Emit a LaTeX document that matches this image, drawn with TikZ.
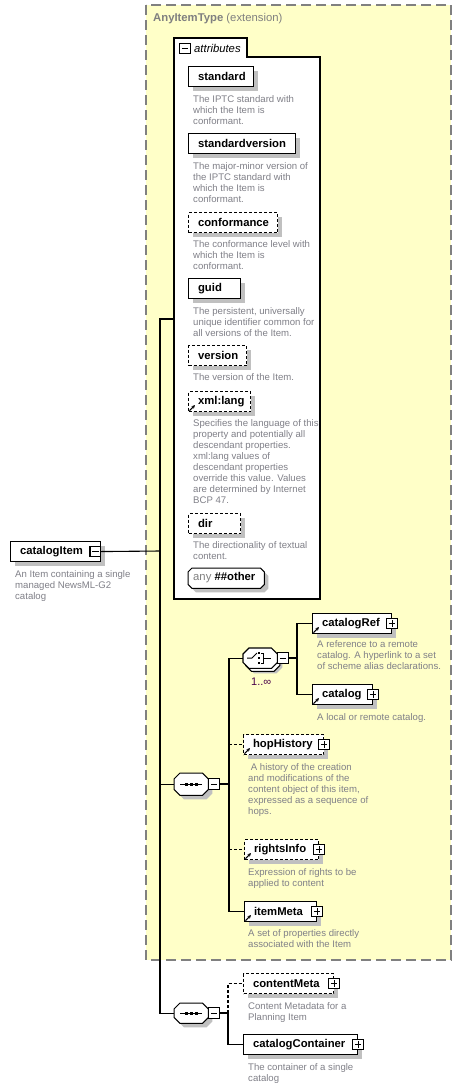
\documentclass[tikz,border=0pt]{standalone}
\usepackage{fontspec}
\setmainfont{Liberation Sans}
\usetikzlibrary{arrows.meta,calc}
\definecolor{ybg}{RGB}{255,255,200}
\definecolor{bgray}{RGB}{128,128,128}
\definecolor{dgray}{RGB}{128,128,136}
\definecolor{shd}{RGB}{192,192,192}
\definecolor{purp}{RGB}{72,0,72}
\newcommand\elfont{\fontsize{11.3pt}{13pt}\selectfont\bfseries}
\newcommand\descfont{\fontsize{9.6pt}{11pt}\selectfont}
\newcommand\nm[2]{\makebox[#1][l]{\hspace{9.5pt}#2}}
\newcommand\octpath[2]{($(#1.north west)+(#2,0)$) -- ($(#1.north east)+(-#2,0)$) -- ($(#1.north east)+(0,#2)$) -- ($(#1.south east)+(0,-#2)$) -- ($(#1.south east)+(-#2,0)$) -- ($(#1.south west)+(#2,0)$) -- ($(#1.south west)+(0,-#2)$) -- ($(#1.north west)+(0,#2)$) -- cycle}
\newcommand\refic[1]{\draw[refarrow] ([xshift=1.5pt,yshift=1.5pt]#1.south west) -- ++(5.5,-5.5);}
\newcommand\octo[2]{\fill[shd, transform canvas={xshift=4pt,yshift=-4pt}] \octpath{#1}{#2};
  \draw[fill=white, line width=1pt] \octpath{#1}{#2};}
\newcommand\seqsym[1]{\draw[line width=1pt] ($(#1.west)+(6,0)$) -- ($(#1.east)+(-6,0)$);
  \foreach \d in {-5,0,5} \fill ($(#1.center)+(\d,0)$) +(-1.5,-1.5) rectangle +(1.5,1.5);}
\begin{document}
\begin{tikzpicture}[x=1pt,y=-1pt,
  conn/.style={line width=1.1pt, draw=black},
  elem/.style={draw=black, line width=1.1pt, fill=white, anchor=north west, minimum height=20pt, inner sep=0pt, font=\elfont,
    preaction={fill=shd, draw=none, transform canvas={xshift=4pt,yshift=-4pt}}},
  opt/.style={dash pattern=on 3pt off 2pt},
  desc/.style={anchor=north west, inner sep=0pt, align=left, font=\descfont, text=dgray},
  pmminus/.style={draw=black, fill=white, line width=1.2pt, minimum size=10.5pt, inner sep=0pt, solid,
    path picture={\draw[line width=1pt] ([xshift=2pt]path picture bounding box.west) -- ([xshift=-2pt]path picture bounding box.east);}},
  pmplus/.style={draw=black, fill=white, line width=1.2pt, minimum size=10.5pt, inner sep=0pt, solid,
    path picture={\draw[line width=1pt] ([xshift=2pt]path picture bounding box.west) -- ([xshift=-2pt]path picture bounding box.east);
      \draw[line width=1pt] ([yshift=-2pt]path picture bounding box.north) -- ([yshift=2pt]path picture bounding box.south);}},
  refarrow/.style={line width=1.1pt, solid, -{Stealth[length=3.5pt,width=3.5pt]}},
  octnode/.style={minimum width=34pt, minimum height=22pt, inner sep=0pt, anchor=north west}
]
\useasboundingbox (0,0) rectangle (461,1088);
\fill[white] (0,0) rectangle (461,1088);

% extension background
\draw[draw=bgray, fill=ybg, line width=1.3pt, dash pattern=on 10pt off 5pt] (146,5) rectangle (451,960);
\node[anchor=west, inner sep=0pt, text=bgray, font=\fontsize{11.3pt}{13pt}\selectfont] (title) at (153,19) {\textbf{AnyItemType} (extension)};

% attributes group
\draw[line width=1.1pt, fill=white] (174,599) -- (174,38) -- (247,38) -- (247,57) -- (320,57) -- (320,599) -- cycle;
\node[pmminus] (attrPm) at (185,48.5) {};
\node[anchor=west, inner sep=0pt, font=\fontsize{11.3pt}{13pt}\selectfont\itshape] (attrlabel) at (194,48) {attributes};
\coordinate (attrin) at (174,319);

\node[elem] (standard) at (188,66) {\nm{65pt}{standard}};
\node[desc] (dstandard) at (193,95) {The IPTC standard with\\which the Item is\\conformant.};
\node[elem] (standardversion) at (188,133) {\nm{107pt}{standardversion}};
\node[desc] (dstandardversion) at (193,162) {The major-minor version of\\the IPTC standard with\\which the Item is\\conformant.};
\node[elem, opt] (conformance) at (188,212) {\nm{89pt}{conformance}};
\node[desc] (dconformance) at (193,240) {The conformance level with\\which the Item is\\conformant.};
\node[elem] (guid) at (188,278) {\nm{52pt}{guid}};
\node[desc] (dguid) at (193,307) {The persistent, universally\\unique identifier common for\\all versions of the Item.};
\node[elem, opt] (version) at (188,345) {\nm{58pt}{version}};
\node[desc] (dversion) at (193,373) {The version of the Item.};
\node[elem, opt] (xmllang) at (188,391) {\nm{62pt}{xml:lang}};
\refic{xmllang}
\node[desc] (dxmllang) at (193,419) {Specifies the language of this\\property and potentially all\\descendant properties.\\xml:lang values of\\descendant properties\\override this value. Values\\are determined by Internet\\BCP 47.};
\node[elem, opt] (dir) at (188,513) {\nm{52pt}{dir}};
\node[desc] (ddir) at (193,541) {The directionality of textual\\content.};
\node[octnode, minimum width=76pt, minimum height=20pt] (any) at (188,568) {};
\octo{any}{4}
\node[anchor=west, inner sep=0pt, font=\fontsize{11.3pt}{13pt}\selectfont] (anytext) at (193,578) {\textcolor{bgray}{any} \textbf{\#\#other}};

% root element
\node[elem] (catalogItem) at (10,541) {\nm{90pt}{catalogItem}};
\node[pmminus, anchor=east] (catalogItemPm) at (catalogItem.east) {};
\node[desc] (dcatalogItem) at (15,570) {An Item containing a single\\managed NewsML-G2\\catalog};
\coordinate (trunk) at (160,551);

% sequence 1
\node[octnode] (seq1) at (174,773) {};
\octo{seq1}{6}
\seqsym{seq1}
\node[pmminus] (seq1Pm) at (214,784) {};
\coordinate (b1) at (229,784);

% choice
\node[octnode, minimum height=20pt] (choice) at (243,648) {};
\fill[shd, transform canvas={xshift=5pt,yshift=-5pt}] \octpath{choice}{6};
\draw[fill=white, line width=1pt, transform canvas={xshift=2.5pt,yshift=-3pt}] \octpath{choice}{6};
\draw[fill=white, line width=1.1pt] \octpath{choice}{6};
\draw[line width=1pt] (247,658) -- (252,658) -- (257,653);
\foreach \yy in {653,658,663} \fill (258,\yy-1) rectangle (260,\yy+1);
\draw[line width=1pt] (261,653) -- (263,653) -- (263,663) -- (261,663) (263,658) -- (271,658);
\node[pmminus] (choicePm) at (283,658) {};
\node[anchor=west, inner sep=0pt, text=purp, font=\fontsize{11pt}{13pt}\selectfont] (mult) at (251,682) {1..∞};
\coordinate (b3) at (297,658);

\node[elem] (catalogRef) at (312,613) {\nm{79pt}{catalogRef}};
\refic{catalogRef}
\node[pmplus] (catalogRefPm) at (catalogRef.east) {};
\node[desc] (dcatalogRef) at (317,640) {A reference to a remote\\catalog. A hyperlink to a set\\of scheme alias declarations.};
\node[elem] (catalog) at (312,684) {\nm{60pt}{catalog}};
\refic{catalog}
\node[pmplus] (catalogPm) at (catalog.east) {};
\node[desc] (dcatalog) at (317,713) {A local or remote catalog.};

\node[elem, opt] (hopHistory) at (243,734) {\nm{80pt}{hopHistory}};
\refic{hopHistory}
\node[pmplus] (hopHistoryPm) at (hopHistory.east) {};
\node[desc] (dhopHistory) at (248,763) {\ A history of the creation\\and modifications of the\\content object of this item,\\expressed as a sequence of\\hops.};
\node[elem, opt] (rightsInfo) at (244,839) {\nm{74pt}{rightsInfo}};
\refic{rightsInfo}
\node[pmplus] (rightsInfoPm) at (rightsInfo.east) {};
\node[desc] (drightsInfo) at (248,868) {Expression of rights to be\\applied to content};
\node[elem] (itemMeta) at (244,901) {\nm{72pt}{itemMeta}};
\refic{itemMeta}
\node[pmplus] (itemMetaPm) at (itemMeta.east) {};
\node[desc] (ditemMeta) at (248,929) {A set of properties directly\\associated with the Item};

% sequence 2
\node[octnode, minimum height=20pt] (seq2) at (174,1003) {};
\octo{seq2}{6}
\seqsym{seq2}
\node[pmminus] (seq2Pm) at (214,1013) {};
\coordinate (b2) at (228,1013);
\node[elem, opt] (contentMeta) at (243,973) {\nm{90pt}{contentMeta}};
\node[pmplus] (contentMetaPm) at (contentMeta.east) {};
\node[desc] (dcontentMeta) at (248,1002) {Content Metadata for a\\Planning Item};
\node[elem] (catalogContainer) at (243,1034) {\nm{114pt}{catalogContainer}};
\node[pmplus] (catalogContainerPm) at (catalogContainer.east) {};
\node[desc] (dcatalogContainer) at (248,1063) {The container of a single\\catalog};

% connectors
\draw[conn] (catalogItemPm.east) -- (trunk);
\draw[conn] (attrin) -| (trunk) |- (seq2.west);
\draw[conn] (trunk) |- (seq1.west);
\draw[conn] (seq1Pm.east) -- (b1);
\draw[conn] (choice.west) -| (b1) |- (itemMeta.west);
\draw[conn, opt] (b1 |- hopHistory.west) -- (hopHistory.west);
\draw[conn, opt] (b1 |- rightsInfo.west) -- (rightsInfo.west);
\draw[conn] (choicePm.east) -- (b3);
\draw[conn] (catalogRef.west) -| (b3) |- (catalog.west);
\draw[conn] (seq2Pm.east) -- (b2) |- (catalogContainer.west);
\draw[conn, opt] (b2) |- (contentMeta.west);
\end{tikzpicture}
\end{document}
